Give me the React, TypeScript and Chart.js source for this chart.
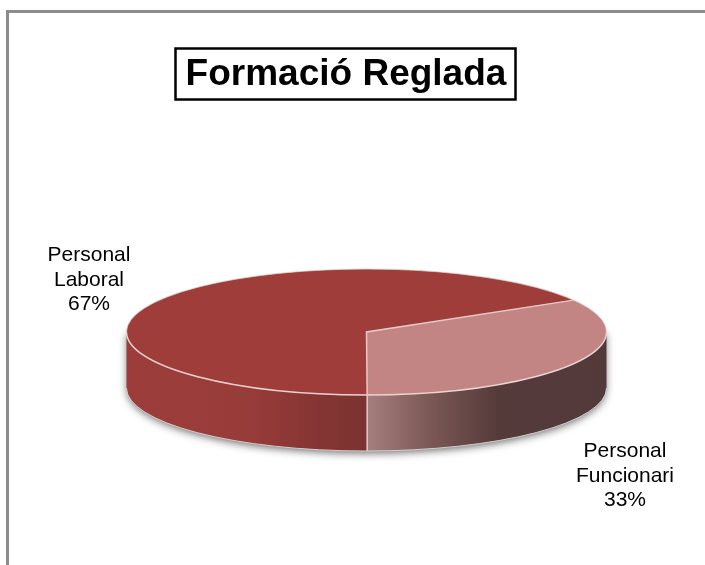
import React, { useEffect, useRef } from "react";
import { Chart, registerables } from "chart.js";

Chart.register(...registerables);

const titleText = "Formació Reglada";
const categories = ["Personal Funcionari", "Personal Laboral"];
const values = [33.4, 66.6];
const sliceColors = ["#c28583", "#9e3d3a"];

const CX = 366.5;
const CY = 332;
const RX = 240;
const SQUASH = 63 / 240;
const DEPTH = 56;
const ROTATION = 59.6;
const FONT = '"Liberation Sans", Arial, sans-serif';
const LINE_HEIGHT = 24.5;
const LABEL_ANCHORS = [
  { x: 625, y: 457 },
  { x: 89, y: 261 },
];

const wallGradients = [
  [
    [0, "#a57f7d"],
    [0.25, "#7d5957"],
    [0.55, "#553a3a"],
    [1, "#533a3a"],
  ],
  [
    [0, "#9c3d3b"],
    [0.5, "#983c3a"],
    [0.75, "#873634"],
    [1, "#7a3230"],
  ],
] as [number, string][][];

function ex(a: number) {
  return CX + RX * Math.cos(a);
}
function ey(a: number) {
  return CY + RX * SQUASH * Math.sin(a);
}

const pie3d = {
  id: "pie3d",
  beforeDatasetsDraw(chart: any) {
    const { ctx } = chart;
    const arcs = chart.getDatasetMeta(0).data;
    ctx.save();
    // soft drop shadow of the cylinder
    ctx.save();
    ctx.shadowColor = "rgba(0,0,0,0.6)";
    ctx.shadowBlur = 8;
    ctx.shadowOffsetY = 2;
    ctx.fillStyle = "#888";
    ctx.beginPath();
    ctx.ellipse(CX, CY + DEPTH, RX - 1, RX * SQUASH, 0, 0, Math.PI);
    ctx.lineTo(CX - RX + 1, CY);
    ctx.lineTo(CX + RX - 1, CY);
    ctx.closePath();
    ctx.fill();
    ctx.restore();
    // side wall, one part per slice
    arcs.forEach((arc: any, i: number) => {
      const from = Math.max(arc.startAngle, 0);
      const to = Math.min(arc.endAngle, Math.PI);
      if (to <= from) return;
      const x0 = Math.min(ex(from), ex(to));
      const x1 = Math.max(ex(from), ex(to));
      const g = ctx.createLinearGradient(x0, 0, x1, 0);
      wallGradients[i].forEach(([o, c]) => g.addColorStop(o, c));
      ctx.fillStyle = g;
      ctx.beginPath();
      ctx.ellipse(CX, CY, RX, RX * SQUASH, 0, from, to);
      ctx.ellipse(CX, CY + DEPTH, RX, RX * SQUASH, 0, to, from, true);
      ctx.closePath();
      ctx.fill();
    });
    ctx.restore();
    // flatten the library's pie into the top face
    const a0 = arcs[0];
    ctx.save();
    ctx.translate(CX, CY);
    ctx.scale(1, SQUASH);
    ctx.translate(-a0.x, -a0.y);
  },
  afterDatasetsDraw(chart: any) {
    const { ctx } = chart;
    ctx.restore();
    const arcs = chart.getDatasetMeta(0).data;
    const boundary = arcs[0].endAngle;
    const start = arcs[0].startAngle;
    ctx.save();
    // back rim
    ctx.strokeStyle = "rgba(225,210,210,0.75)";
    ctx.lineWidth = 1;
    ctx.beginPath();
    ctx.ellipse(CX, CY, RX, RX * SQUASH, 0, Math.PI, Math.PI * 2);
    ctx.stroke();
    // front rim
    ctx.strokeStyle = "#ecd4d0";
    ctx.lineWidth = 1.5;
    ctx.beginPath();
    ctx.ellipse(CX, CY, RX, RX * SQUASH, 0, 0, Math.PI);
    ctx.stroke();
    // slice separators and wall edge
    ctx.strokeStyle = "#e6c8c6";
    ctx.lineWidth = 1.5;
    ctx.beginPath();
    ctx.moveTo(ex(start), ey(start));
    ctx.lineTo(CX, CY);
    ctx.lineTo(ex(boundary), ey(boundary));
    ctx.lineTo(ex(boundary), ey(boundary) + DEPTH);
    ctx.stroke();
    // bottom pale edge
    ctx.strokeStyle = "rgba(220,215,215,0.9)";
    ctx.lineWidth = 1;
    ctx.beginPath();
    ctx.ellipse(CX, CY + DEPTH, RX, RX * SQUASH, 0, 0, Math.PI);
    ctx.stroke();
    ctx.restore();
  },
  afterDraw(chart: any) {
    const { ctx } = chart;
    ctx.save();
    // frame: top and left rules only
    ctx.fillStyle = "#8c8c8c";
    ctx.fillRect(6, 10, 699, 3);
    ctx.fillRect(6, 10, 3, 555);
    // title box
    ctx.strokeStyle = "#000";
    ctx.lineWidth = 2.5;
    ctx.strokeRect(175.5, 48.5, 340, 51);
    // data labels
    ctx.fillStyle = "#000";
    ctx.font = `21px ${FONT}`;
    ctx.textAlign = "center";
    ctx.textBaseline = "alphabetic";
    categories.forEach((name, i) => {
      const lines = [...name.split(" "), `${Math.round(values[i])}%`];
      lines.forEach((l, k) => {
        ctx.fillText(l, LABEL_ANCHORS[i].x, LABEL_ANCHORS[i].y + k * LINE_HEIGHT);
      });
    });
    ctx.restore();
  },
};

export default function App() {
  const ref = useRef<HTMLCanvasElement>(null);
  useEffect(() => {
    document.body.style.margin = "0";
    const chart = new Chart(ref.current!, {
      type: "pie",
      data: {
        labels: categories,
        datasets: [
          {
            data: values,
            backgroundColor: sliceColors,
            borderWidth: 0,
            radius: RX,
            clip: false,
          } as any,
        ],
      },
      options: {
        responsive: false,
        animation: false,
        rotation: ROTATION,
        layout: { padding: { left: 0, right: 13, top: 0, bottom: 0 } },
        plugins: {
          legend: { display: false },
          tooltip: { enabled: false },
          title: {
            display: true,
            text: titleText,
            color: "#000",
            font: { family: FONT, size: 37, weight: "bold", lineHeight: 1 },
            padding: { top: 56, bottom: 0 },
          },
        },
      },
      plugins: [pie3d],
    });
    return () => chart.destroy();
  }, []);
  return (
    <canvas
      ref={ref}
      width={705}
      height={565}
      style={{ display: "block", width: 705, height: 565, background: "#fff" }}
    />
  );
}
